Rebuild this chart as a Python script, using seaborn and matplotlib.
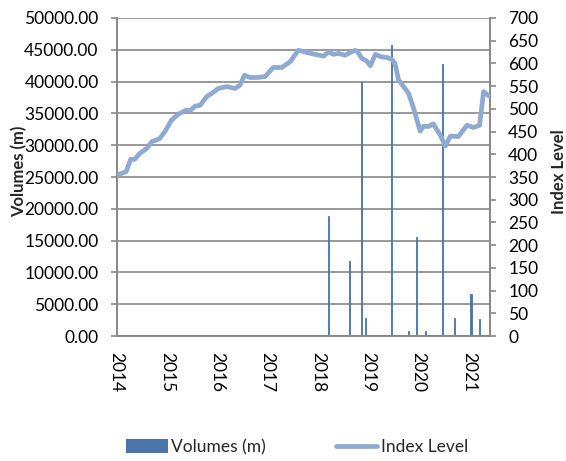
import matplotlib
matplotlib.use("Agg")
import matplotlib.pyplot as plt
import seaborn as sns
import pandas as pd
from matplotlib.patches import Patch
from matplotlib.lines import Line2D

# Trade volumes (millions) by date, as fractional years
vol_dates = [2018.21, 2018.62, 2018.87, 2018.95, 2019.46, 2019.79,
             2019.96, 2020.13, 2020.47, 2020.71, 2021.04, 2021.21]
vol_values = [18900, 11800, 40000, 2900, 45800, 850,
              15500, 850, 42700, 2800, 6600, 2750]

# Index level over time
idx_dates = [2014.00, 2014.10, 2014.19, 2014.28, 2014.36, 2014.46, 2014.60, 2014.70,
             2014.85, 2014.96, 2015.09, 2015.22, 2015.38, 2015.46, 2015.56, 2015.66,
             2015.79, 2015.89, 2016.02, 2016.19, 2016.35, 2016.45, 2016.54, 2016.65,
             2016.78, 2016.95, 2017.11, 2017.28, 2017.45, 2017.61, 2017.78, 2017.94,
             2018.11, 2018.21, 2018.31, 2018.41, 2018.54, 2018.64, 2018.74, 2018.80,
             2018.87, 2018.96, 2019.04, 2019.14, 2019.24, 2019.37, 2019.47, 2019.53,
             2019.60, 2019.70, 2019.80, 2019.90, 2020.03, 2020.10, 2020.19, 2020.29,
             2020.43, 2020.53, 2020.63, 2020.79, 2020.96, 2021.09, 2021.21, 2021.29,
             2021.40]
idx_values = [354, 358, 362, 389, 389, 402, 413, 428,
              434, 450, 475, 488, 497, 496, 506, 508,
              527, 534, 545, 549, 545, 552, 574, 569,
              569, 571, 591, 591, 604, 629, 624, 620,
              616, 625, 620, 622, 618, 624, 629, 624,
              611, 606, 595, 620, 615, 613, 609, 600,
              564, 549, 534, 501, 451, 462, 461, 467,
              442, 418, 440, 439, 464, 459, 464, 538,
              528]

years = [2014, 2015, 2016, 2017, 2018, 2019, 2020, 2021]
left_ticks = list(range(0, 50001, 5000))
right_ticks = list(range(0, 701, 50))

sns.set_style("white")
plt.rcParams["font.family"] = ["Lato", "DejaVu Sans"]

BAR_COLOR = "#4A74AB"
LINE_COLOR = "#8EA9D2"
GRID = "#878787"
FS = 12.5

fig = plt.figure(figsize=(5.66, 4.61), dpi=100)
ax = fig.add_axes([0.206, 0.271, 0.66, 0.690])

ax.set_axisbelow(True)
ax.yaxis.grid(True, color=GRID, linewidth=1.2)
ax.bar(vol_dates, vol_values, width=0.022, color=BAR_COLOR,
       edgecolor=BAR_COLOR, linewidth=0.6, zorder=2)
ax.set_ylim(0, 50000)
ax.set_xlim(2014.0, 2021.42)
ax.set_yticks(left_ticks)
ax.set_yticklabels([f"{v:.2f}" for v in left_ticks], fontsize=FS)
ax.set_xticks(years)
ax.set_xticklabels([str(y) for y in years], rotation=-90, fontsize=FS)
ax.set_ylabel("Volumes (m)", fontsize=12, fontweight="bold")
ax.yaxis.set_label_coords(-0.238, 0.517)

ax2 = ax.twinx()
idx_df = pd.DataFrame({"date": idx_dates, "level": idx_values})
sns.lineplot(data=idx_df, x="date", y="level", ax=ax2, color=LINE_COLOR,
             linewidth=3.4, zorder=3)
ax2.set_ylim(0, 700)
ax2.set_yticks(right_ticks)
ax2.set_yticklabels([str(v) for v in right_ticks], fontsize=FS)
ax2.set_xlabel("")
ax2.set_ylabel("Index Level", fontsize=12, fontweight="bold")
ax2.yaxis.set_label_coords(1.163, 0.517)
ax2.grid(False)

for a in (ax, ax2):
    for side in ("left", "right", "bottom"):
        a.spines[side].set_color(GRID)
        a.spines[side].set_linewidth(1.2)
    a.spines["top"].set_visible(False)
    a.tick_params(axis="y", which="major", direction="out", length=4.5,
                  width=1.2, color=GRID, labelcolor="black", pad=8.5)
    a.tick_params(axis="x", which="major", direction="out", length=5,
                  width=1.2, color=GRID, labelcolor="black", pad=6.5)
ax.tick_params(axis="y", right=False)
ax2.tick_params(axis="y", left=False)

handles = [Patch(facecolor=BAR_COLOR, edgecolor="none", label="Volumes (m)"),
           Line2D([0], [0], color=LINE_COLOR, linewidth=3.4, label="Index Level")]
fig.legend(handles=handles, loc="center", bbox_to_anchor=(0.525, 0.03), ncol=2,
           frameon=False, fontsize=FS, handlelength=2.4, handleheight=0.9,
           handletextpad=0.2, columnspacing=4.0)

fig.savefig("out.png", dpi=100)
